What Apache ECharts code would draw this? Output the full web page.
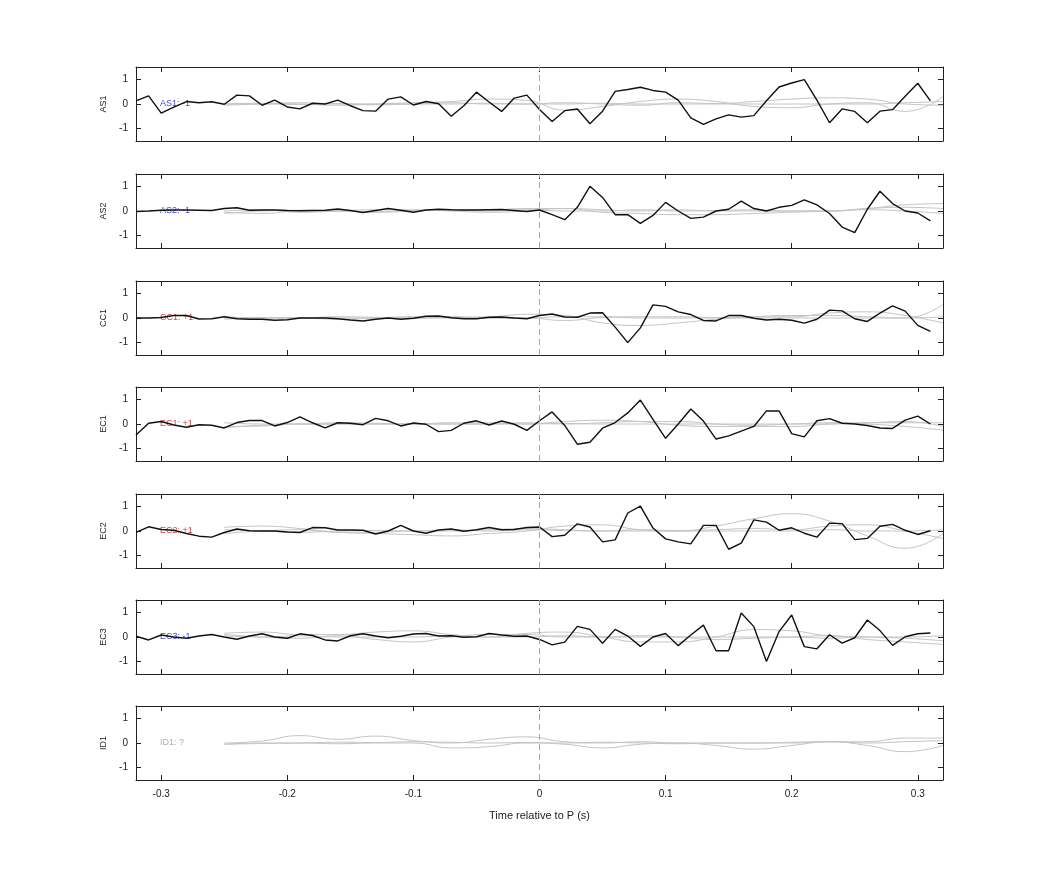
<!DOCTYPE html>
<html><head><meta charset="utf-8">
<script src="https://cdn.jsdelivr.net/npm/echarts@6/dist/echarts.min.js"></script>
<style>html,body{margin:0;padding:0;background:#fff}#c{width:1042px;height:875px}</style>
</head><body><div id="c"></div>
<script>
const stations = ['AS1','AS2','CC1','EC1','EC2','EC3','ID1'];
const labels = ['AS1: -1','AS2: -1','CC1: +1','EC1: +1','EC2: +1','EC3: -1','ID1: ?'];
const labelColors = ['#1010c8','#1010c8','#d01010','#d01010','#d01010','#1010c8','#999999'];
const xTicks = [-0.3,-0.2,-0.1,0,0.1,0.2,0.3];
const yTicks = [-1,0,1];
// black traces, t = -0.32 .. 0.31 step 0.01
const blackT = Array.from({length:64},(_,i)=>+(-0.32+i*0.01).toFixed(2));
const blackAS1 = [0.13,0.33,-0.37,-0.13,0.1,0.05,0.09,-0.01,0.36,0.33,-0.05,0.16,-0.12,-0.2,0.03,0,0.16,-0.07,-0.27,-0.29,0.2,0.29,-0.04,0.1,0.01,-0.5,-0.07,0.48,0.08,-0.3,0.24,0.36,-0.22,
 -0.71,-0.27,-0.2,-0.8,-0.29,0.51,0.59,0.68,0.55,0.48,0.16,-0.56,-0.83,-0.6,-0.44,-0.53,-0.47,0.13,0.69,0.85,0.99,0.16,-0.76,-0.2,-0.3,-0.76,-0.29,-0.23,0.31,0.84,0.13];
const blackAS2 = [-0.02,0,0.03,0.04,0.04,0.03,0.02,0.1,0.13,0.03,0.04,0.04,0.02,0.01,0.02,0.03,0.08,0.02,-0.06,0.02,0.1,0.03,-0.05,0.04,0.07,0.05,0.04,0.04,0.05,0.06,0.02,-0.02,0.04,
 -0.15,-0.35,0.15,1.0,0.55,-0.15,-0.15,-0.5,-0.18,0.35,0,-0.3,-0.25,0,0.07,0.4,0.1,0,0.15,0.23,0.45,0.25,-0.1,-0.65,-0.88,0.07,0.8,0.3,0,-0.08,-0.4];
const blackCC1 = [0,0,0.02,0.1,0.1,-0.04,-0.03,0.05,-0.03,-0.05,-0.05,-0.09,-0.07,0,0,0,-0.03,-0.08,-0.12,-0.05,0,-0.05,-0.01,0.07,0.08,0.01,-0.03,-0.03,0.03,0.04,0,-0.03,0.1,
 0.16,0.04,0.03,0.2,0.21,-0.37,-1.0,-0.4,0.53,0.47,0.25,0.14,-0.1,-0.12,0.1,0.1,-0.01,-0.08,-0.05,-0.09,-0.21,-0.05,0.32,0.29,-0.03,-0.14,0.2,0.49,0.28,-0.3,-0.54];
const blackEC1 = [-0.45,0.03,0.1,-0.04,-0.13,-0.03,-0.05,-0.16,0.06,0.14,0.14,-0.08,0.06,0.29,0.05,-0.16,0.05,0.03,-0.03,0.23,0.13,-0.08,0.04,-0.01,-0.31,-0.26,0.03,0.13,-0.04,0.12,-0.01,-0.26,0.13,
 0.49,-0.06,-0.82,-0.74,-0.17,0.06,0.45,0.97,0.19,-0.58,0,0.61,0.12,-0.61,-0.48,-0.29,-0.1,0.53,0.53,-0.39,-0.52,0.13,0.22,0.03,0,-0.06,-0.16,-0.18,0.16,0.32,0];
const blackEC2 = [-0.06,0.17,0.06,0.03,-0.1,-0.21,-0.25,-0.06,0.08,0.01,0,0,-0.04,-0.06,0.14,0.13,0.04,0.04,0.03,-0.12,0,0.23,0,-0.09,0.04,0.08,-0.01,0.05,0.14,0.05,0.06,0.14,0.16,
 -0.23,-0.17,0.29,0.16,-0.44,-0.36,0.73,1.01,0.12,-0.32,-0.44,-0.52,0.23,0.23,-0.74,-0.49,0.45,0.36,0.03,0.13,-0.09,-0.25,0.32,0.3,-0.35,-0.3,0.19,0.27,0.03,-0.14,0.01];
const blackEC3 = [0.03,-0.12,0.08,0,-0.05,0.04,0.1,0,-0.09,0.04,0.13,0,-0.05,0.13,0.06,-0.12,-0.16,0.05,0.13,0.04,-0.03,0.03,0.12,0.14,0.04,0.05,-0.01,0.01,0.14,0.08,0.03,0.04,-0.1,
 -0.32,-0.21,0.43,0.31,-0.25,0.31,0.04,-0.38,0,0.14,-0.35,0.08,0.48,-0.56,-0.56,0.97,0.42,-0.99,0.22,0.89,-0.39,-0.48,0.09,-0.25,-0.03,0.69,0.26,-0.34,0.01,0.13,0.16];
const blacks = [blackAS1,blackAS2,blackCC1,blackEC1,blackEC2,blackEC3,null];
// gray traces, t = -0.25 .. 0.32 step 0.03
const grayT = Array.from({length:20},(_,i)=>+(-0.25+i*0.03).toFixed(2));
const grayAS1 = [[0,0.03,0,-0.05,0,0.05,0.1,0.2,0.15,-0.25,-0.1,0.1,0.2,0.1,-0.1,-0.15,0,0.05,-0.3,0.3],
 [-0.05,0,0.05,0,-0.03,0,0.05,0,0,0.05,0,-0.05,0.05,0.02,0.1,0.2,0.25,0.2,0,-0.05],
 [0,0,-0.02,0.02,0,0,0,0.03,0,0,0.03,0,0,0,0,0,0,0,0.05,0.1]];
const grayAS2 = [[-0.05,-0.1,0,0,-0.05,0,0.05,0.05,0.1,0.1,0.05,0,0.05,0,0,0,0,0.1,0.25,0.3],
 [0,0.05,-0.05,0,0.05,0.05,0,-0.05,0,0.1,-0.05,-0.1,-0.15,-0.15,-0.1,-0.05,0,0.05,0,-0.1],
 [-0.1,0,0.03,0,-0.03,0.02,0.02,0,0.05,0,0,0.05,0,0.02,0.05,0,0,0.1,0.15,0.1]];
const grayCC1 = [[-0.05,0,0,0.05,0.03,0,0.03,0.05,0.15,0.1,-0.2,-0.3,-0.2,-0.05,0.05,0.1,0.1,0.05,0,0.55],
 [0.05,0,0,-0.05,0,0.05,0.05,0,0,-0.1,0.02,0.05,0.05,0.02,0.05,0.05,0.2,0.25,0.1,-0.2],
 [0,0.02,0.02,0,0,0,0,0,0,0.05,0.05,0,0,0,0,0,0,0,0,0.05]];
const grayEC1 = [[-0.15,-0.05,0,0,0,0,0.05,0.05,0,0.1,0.15,0.1,-0.05,-0.1,-0.1,-0.1,0,0.05,0.1,-0.1],
 [0.05,0,0,0.05,0.03,0,0,0,0.05,0,0.05,0.1,0.1,0,-0.05,0,0.05,0,-0.1,-0.25],
 [-0.1,-0.08,0,0,0,0,0,0,0,0.02,0,0,0,0,0,0,0,0.05,0.05,0.05]];
const grayEC2 = [[0.15,0.2,0.1,-0.05,-0.1,-0.15,-0.2,-0.1,0,0.2,0.25,0.05,0,0.2,0.5,0.7,0.4,-0.2,-0.7,-0.1],
 [-0.1,0,0.05,-0.05,-0.05,0,0,0.05,0.1,0.05,0,0.05,0.02,0.05,0.1,0.05,0.2,0.25,0,-0.3],
 [0.05,0,-0.05,0,0.02,0,0.05,0,0.05,0.02,0,0,0,0,0,0,0.05,0,0,0.05]];
const grayEC3 = [[0.15,0.2,0.1,0.1,0.2,0.25,0.1,0,0.15,0.2,0,-0.2,-0.2,0,0.3,0.25,0.05,0,-0.05,-0.15],
 [0.1,0,-0.05,0.05,-0.1,-0.2,0,0.1,0.1,0,0,0.05,0,-0.1,-0.05,0,0.05,-0.1,-0.2,-0.3],
 [0.05,0,0.05,0,0,0,0.05,0,0,0.05,0,0,0,0,0,0,-0.05,0,0,0.05]];
const grayID1 = [[0,0.08,0.3,0.15,0.28,0.1,0,0.15,0.25,0.05,0,0.05,0,0,0,0,0.05,0.05,0.2,0.2],
 [-0.05,0,0,-0.03,0,0,-0.2,-0.15,0,-0.05,-0.2,-0.05,0,-0.1,-0.25,-0.1,0.05,-0.1,-0.35,-0.1],
 [-0.05,-0.02,0,0.03,0.02,0.05,0.03,0,0.02,0,0.03,0,-0.03,0,0,0.03,0.05,0,0.05,0.1]];
const grays = [grayAS1,grayAS2,grayCC1,grayEC1,grayEC2,grayEC3,grayID1];

const tops = [67,174,281,387,494,600,706];
const H = 74;
const font = 'Liberation Sans, Arial, sans-serif';
const grid=[], xAxis=[], yAxis=[], series=[];
stations.forEach((st,k)=>{
  grid.push({left:136,right:99,top:tops[k],height:H});
  const last = k===stations.length-1;
  const xBase = {gridIndex:k,type:'value',min:-0.32,max:0.32,
    axisLine:{show:true,onZero:false,lineStyle:{color:'#222',width:1}},
    splitLine:{show:false},
    axisTick:{inside:true,length:5,customValues:xTicks,lineStyle:{color:'#222'}},
    axisLabel:{show:false,customValues:xTicks}};
  xAxis.push(Object.assign({},xBase,{position:'bottom',
    axisLabel:{show:last,customValues:xTicks,color:'#222',fontSize:10,fontFamily:font,margin:9,
      formatter:v=>String(+v.toFixed(1))},
    name:last?'Time relative to P (s)':'',nameLocation:'middle',nameGap:30,
    nameTextStyle:{color:'#222',fontSize:11,fontFamily:font}}));
  xAxis.push(Object.assign({},xBase,{position:'top'}));
  const yBase = {gridIndex:k,type:'value',min:-1.5,max:1.5,
    axisLine:{show:true,onZero:false,lineStyle:{color:'#222',width:1}},
    splitLine:{show:false},
    axisTick:{inside:true,length:5,customValues:yTicks,lineStyle:{color:'#222'}},
    axisLabel:{show:false,customValues:yTicks}};
  yAxis.push(Object.assign({},yBase,{position:'left',
    axisLabel:{show:true,customValues:yTicks,color:'#222',fontSize:10,fontFamily:font,margin:8},
    name:st,nameLocation:'middle',nameGap:27,nameRotate:90,
    nameTextStyle:{color:'#222',fontSize:9,fontFamily:font}}));
  yAxis.push(Object.assign({},yBase,{position:'right'}));
  const xi=2*k, yi=2*k;
  grays[k].forEach(g=>{
    series.push({type:'line',xAxisIndex:xi,yAxisIndex:yi,smooth:0.5,showSymbol:false,silent:true,
      clip:true,lineStyle:{color:'#c4c4c4',width:1},data:grayT.map((t,i)=>[t,g[i]])});
  });
  if(blacks[k]){
    series.push({type:'line',xAxisIndex:xi,yAxisIndex:yi,showSymbol:false,silent:true,clip:true,
      lineStyle:{color:'#111',width:1.4},data:blackT.map((t,i)=>[t,blacks[k][i]])});
  }
  series.push({type:'scatter',xAxisIndex:xi,yAxisIndex:yi,symbolSize:0,silent:true,
    data:[[-0.301,0]],
    label:{show:true,position:'right',distance:0,formatter:labels[k],color:labelColors[k],
      fontSize:9,fontFamily:font},
    markLine:{silent:true,symbol:'none',label:{show:false},
      lineStyle:{color:'#e38a8a',type:[6,4],width:1},data:[{xAxis:0}]}});
});
const chart = echarts.init(document.getElementById('c'),null,{renderer:'canvas'});
chart.setOption({animation:false,backgroundColor:'#fff',grid,xAxis,yAxis,series});
</script></body></html>
